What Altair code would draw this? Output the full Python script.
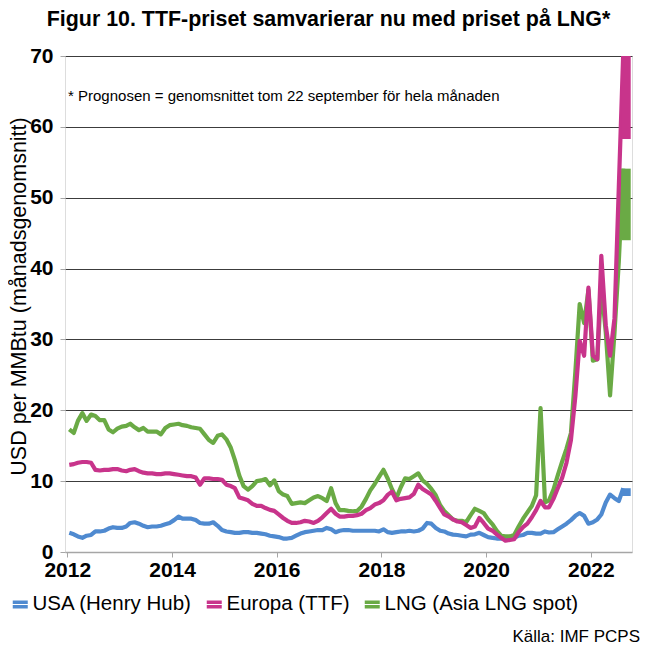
import altair as alt
import pandas as pd

# ---------------- data (monthly averages, USD per MMBtu) ----------------
series_names = ["USA (Henry Hub)", "Europa (TTF)", "LNG (Asia LNG spot)"]
series_colors = ["#4F8AD0", "#C8348B", "#6AAA45"]

usa = [2.7, 2.5, 2.2, 2.0, 2.3, 2.4, 2.9, 2.9, 3.0, 3.3, 3.5, 3.4,
       3.4, 3.6, 4.1, 4.2, 4.0, 3.7, 3.5, 3.6, 3.6, 3.7, 3.9, 4.1,
       4.5, 5.0, 4.7, 4.7, 4.7, 4.5, 4.1, 4.0, 4.0, 4.2, 3.7, 3.1,
       2.9, 2.8, 2.7, 2.7, 2.8, 2.8, 2.7, 2.7, 2.6, 2.5, 2.3, 2.2,
       2.1, 1.9, 1.9, 2.0, 2.3, 2.6, 2.8, 2.9, 3.0, 3.1, 3.1, 3.4,
       3.2, 2.8, 3.0, 3.1, 3.1, 3.0, 3.0, 3.0, 3.0, 3.0, 3.0, 2.9,
       3.2, 2.8, 2.7, 2.8, 2.9, 2.9, 3.0, 2.9, 3.0, 3.3, 4.1, 4.0,
       3.4, 3.0, 2.9, 2.6, 2.45, 2.4, 2.3, 2.2, 2.45, 2.5, 2.7, 2.4,
       2.1, 2.0, 1.9, 1.9, 1.9, 1.9, 2.0, 2.3, 2.4, 2.7, 2.7, 2.6,
       2.6, 2.9, 2.75, 2.8, 3.2, 3.6, 4.0, 4.5, 5.1, 5.5, 5.1, 4.0,
       4.2, 4.6, 5.3, 7.0, 8.1, 7.6, 7.2, 9.0]

europa = [12.3, 12.4, 12.6, 12.7, 12.7, 12.6, 11.6, 11.5, 11.6, 11.6, 11.7, 11.7,
          11.5, 11.4, 11.6, 11.7, 11.4, 11.2, 11.1, 11.1, 11.0, 11.0, 11.1, 11.1,
          11.0, 10.9, 10.8, 10.7, 10.7, 10.5, 9.5, 10.4, 10.4, 10.3, 10.3, 10.2,
          9.5, 9.3, 9.0, 7.7, 7.5, 7.3, 6.8, 6.5, 6.5, 6.2, 5.95, 5.8,
          5.3, 4.8, 4.4, 4.1, 4.1, 4.2, 4.4, 4.3, 4.1, 4.4, 4.9, 5.5,
          6.1, 5.4, 5.0, 5.0, 5.1, 5.1, 5.2, 5.4, 5.9, 6.2, 6.7, 6.9,
          7.3, 8.1, 8.5, 7.3, 7.5, 7.6, 7.7, 8.2, 9.5, 8.9, 8.5, 8.1,
          7.2, 6.2, 5.3, 5.0, 4.6, 4.3, 4.2, 3.8, 3.4, 3.6, 4.8, 4.1,
          3.3, 3.0, 2.5, 2.0, 1.6, 1.7, 1.8, 2.8, 3.5, 4.0, 4.9, 5.9,
          7.2, 6.3, 6.3, 7.5, 9.0, 10.5, 12.6, 15.8, 22.0, 29.8, 27.7, 37.3,
          27.7, 27.2, 41.8, 32.0, 27.7, 33.0, 51.5, 70.5]

lng = [17.3, 16.8, 18.5, 19.6, 18.5, 19.4, 19.2, 18.6, 18.6, 17.3, 16.9, 17.4,
       17.7, 17.8, 18.1, 17.6, 17.2, 17.5, 17.0, 17.0, 17.0, 16.6, 17.5, 17.9,
       18.0, 18.1, 17.9, 17.8, 17.6, 17.5, 17.4, 16.6, 15.8, 15.4, 16.4, 16.6,
       15.9, 14.7, 13.0, 10.8, 9.3, 8.8, 9.3, 10.0, 10.1, 10.3, 9.4, 10.1,
       8.6, 8.1, 7.9, 6.8, 6.9, 7.0, 6.9, 7.3, 7.7, 7.9, 7.6, 7.2,
       9.0, 6.9, 5.9, 5.9, 5.8, 5.75, 5.8, 6.4, 7.5, 8.7, 9.6, 10.6,
       11.6, 10.3, 8.9, 7.6, 9.1, 10.4, 10.3, 10.7, 11.1, 10.1, 9.6, 8.9,
       8.0, 6.6, 5.8, 5.2, 4.6, 4.4, 4.4, 4.2, 5.2, 6.1, 5.8, 5.5,
       4.6, 3.9, 3.0, 2.3, 2.2, 2.2, 2.4, 3.6, 4.7, 5.6, 6.5, 8.0,
       20.3, 7.0, 7.3, 8.8, 10.8, 12.8, 14.6, 16.8, 25.5, 35.0, 32.3, 37.0,
       27.0, 27.2, 37.6, 31.0, 22.1, 31.0, 41.0, 54.1]

# September 2022 forecast (average up to 22 Sept)
forecast_sep = [7.9, 58.3, 44.0]
forecast_x_start = "2022-08-03"
forecast_x_end = "2022-10-06"

dates = [f"{y}-{m:02d}-15" for y in range(2012, 2023) for m in range(1, 13)][:len(usa)]

title_text = "Figur 10. TTF-priset samvarierar nu med priset på LNG*"
note_text = "* Prognosen = genomsnittet tom 22 september för hela månaden"
note_pos = ("2012-01-06", 64.4)
source_text = "Källa: IMF PCPS"
y_title = "USD per MMBtu (månadsgenomsnitt)"
x_tick_years = [2012, 2014, 2016, 2018, 2020, 2022]
y_ticks = [0, 10, 20, 30, 40, 50, 60, 70]

# --------------------------------------------------------------------------
FONT = "Liberation Sans"
rows = []
for name, vals in [(series_names[0], usa), (series_names[2], lng), (series_names[1], europa)]:
    for d, v in zip(dates, vals):
        rows.append({"series": name, "date": d, "value": v})
df = pd.DataFrame(rows)

last_vals = [usa[-1], europa[-1], lng[-1]]
fc = pd.DataFrame({
    "series": series_names,
    "x": [forecast_x_start] * 3,
    "x2": [forecast_x_end] * 3,
    "aug": last_vals,
    "sep": forecast_sep,
})

xscale = alt.Scale(domain=["2011-12-16", "2022-10-15"])
yscale = alt.Scale(domain=[0, 70], nice=False)
cscale = alt.Scale(domain=series_names, range=series_colors)

x_axis = alt.Axis(
    values=[alt.DateTime(year=y, month=1, date=1) for y in x_tick_years],
    format="%Y", title=None, grid=False,
    domainColor="#A6A6A6", domainWidth=1.5, tickColor="#A6A6A6", tickSize=5,
    labelFont=FONT, labelFontSize=21, labelFontWeight="bold", labelColor="#000000",
    labelPadding=2, labelFlush=False,
)
y_axis = alt.Axis(
    values=y_ticks, title=y_title, domain=False,
    grid=True, gridColor=alt.condition("datum.value == 0", alt.value("transparent"), alt.value("#3C3C3C")),
    gridWidth=1.2,
    tickColor="#A6A6A6", tickSize=5,
    labelFont=FONT, labelFontSize=21, labelFontWeight="bold", labelColor="#000000",
    labelPadding=7,
    titleFont=FONT, titleFontSize=21.5, titleFontWeight="normal", titleColor="#000000",
    titleAngle=270, titleX=-46, titleY=240, titleAlign="center", titleBaseline="middle",
)

legend = alt.Legend(
    title=None, orient="none", direction="horizontal", legendX=-55, legendY=538,
    symbolType="M-1,-0.3H1M-1,0.3H1", symbolSize=225, symbolStrokeWidth=3.5,
    labelFont=FONT, labelFontSize=20.5, labelColor="#000000", labelOffset=2, labelLimit=400,
    columnPadding=7, symbolOffset=0, padding=0,
)

lines = alt.Chart(df).mark_line(strokeWidth=4.2, clip=True, strokeJoin="round").encode(
    x=alt.X("date:T", scale=xscale, axis=x_axis),
    y=alt.Y("value:Q", scale=yscale, axis=y_axis),
    color=alt.Color("series:N", scale=cscale, legend=legend, sort=series_names),
    detail="series:N",
)

bars = alt.Chart(fc).mark_rect(clip=True).encode(
    x="x:T", x2="x2:T",
    y="aug:Q", y2="sep:Q",
    color=alt.Color("series:N", scale=cscale, legend=None),
)

note = alt.Chart(pd.DataFrame({"x": [note_pos[0]], "y": [note_pos[1]], "t": [note_text]})).mark_text(
    align="left", baseline="middle", font=FONT, fontSize=15, color="#000000"
).encode(x="x:T", y="y:Q", text="t:N")

source = alt.Chart(pd.DataFrame({"t": [source_text]})).mark_text(
    align="right", baseline="alphabetic", font=FONT, fontSize=17, color="#000000"
).encode(x=alt.value(575), y=alt.value(586), text="t:N")

chart = alt.layer(lines, bars, note, source).resolve_legend(color="independent").properties(
    width=567, height=496,
    autosize=alt.AutoSizeParams(type="none"),
    padding={"left": 57, "top": 48, "right": 9, "bottom": 93},
    title=alt.Title(title_text, font=FONT, fontSize=21.4, fontWeight="bold", color="#000000",
                    anchor="middle", offset=15, dx=-20),
).configure_view(stroke=None).configure(font=FONT)

chart.save("out.html", embed_options={"renderer": "svg", "actions": False})
